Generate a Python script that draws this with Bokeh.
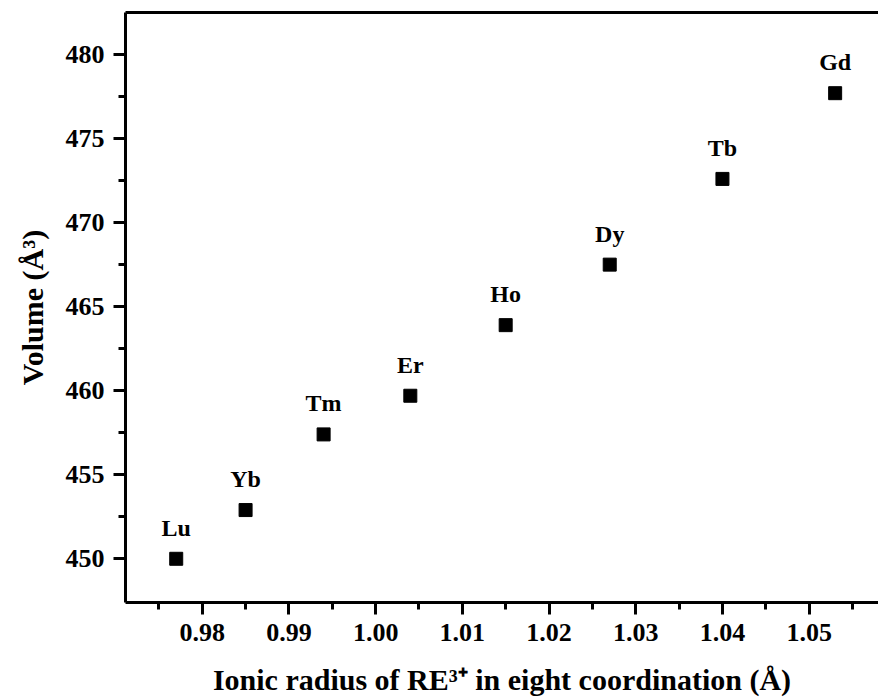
from bokeh.plotting import figure
from bokeh.models import ColumnDataSource, FixedTicker, LinearAxis, Range1d
from bokeh.core.properties import value
from bokeh.embed import file_html
from bokeh.resources import INLINE

# ---- data ----
elements = ["Lu", "Yb", "Tm", "Er", "Ho", "Dy", "Tb", "Gd"]
ionic_radius = [0.977, 0.985, 0.994, 1.004, 1.015, 1.027, 1.040, 1.053]
volume = [450.0, 452.9, 457.4, 459.7, 463.9, 467.5, 472.6, 477.7]

x_ticks = [0.98, 0.99, 1.00, 1.01, 1.02, 1.03, 1.04, 1.05]
x_minor = [0.975, 0.985, 0.995, 1.005, 1.015, 1.025, 1.035, 1.045, 1.055]
y_ticks = [450, 455, 460, 465, 470, 475, 480]
y_minor = [452.5, 457.5, 462.5, 467.5, 472.5, 477.5]

FONT = "Liberation Serif"

src = ColumnDataSource(dict(x=ionic_radius, y=volume, name=elements))

p = figure(width=878, height=700, output_backend="svg", toolbar_location=None,
           x_range=Range1d(0.97115, 1.0580), y_range=Range1d(447.40, 482.50),
           min_border_left=125, min_border_right=0, min_border_top=12,
           min_border_bottom=98)
p.outline_line_color = None
p.grid.visible = False
p.background_fill_color = "white"
p.border_fill_color = "white"

p.scatter("x", "y", source=src, marker="square", size=13, color="black")
p.text("x", "y", text="name", source=src, y_offset=-31,
       text_align="center", text_baseline="alphabetic",
       text_font=value(FONT), text_font_style="bold", text_font_size="24px",
       text_color="black")

for ax in (p.xaxis[0], p.yaxis[0]):
    ax.axis_line_width = 3
    ax.major_tick_line_width = 3
    ax.minor_tick_line_width = 3
    ax.major_tick_out = 12
    ax.major_tick_in = 0
    ax.minor_tick_out = 7
    ax.minor_tick_in = 0
    ax.major_label_text_font = FONT
    ax.major_label_text_font_style = "bold"
    ax.major_label_text_font_size = "26px"
    ax.major_label_text_color = "black"
    ax.major_label_standoff = 9
    ax.axis_label_text_font = FONT
    ax.axis_label_text_font_style = "bold"
    ax.axis_label_text_font_size = "30px"
    ax.axis_label_text_color = "black"

p.xaxis[0].ticker = FixedTicker(ticks=x_ticks, minor_ticks=x_minor)
p.xaxis[0].major_label_overrides = {t: f"{t:.2f}" for t in x_ticks}
p.xaxis[0].axis_label = "Ionic radius of RE³⁺ in eight coordination (Å)"
p.xaxis[0].axis_label_standoff = 19

p.yaxis[0].ticker = FixedTicker(ticks=y_ticks, minor_ticks=y_minor)
p.yaxis[0].major_label_overrides = {t: str(t) for t in y_ticks}
p.yaxis[0].axis_label = "Volume (Å³)"
p.yaxis[0].axis_label_standoff = 14

top = LinearAxis(ticker=FixedTicker(ticks=[]), axis_line_width=3,
                 major_tick_out=0, minor_tick_out=0, major_label_text_alpha=0)
p.add_layout(top, "above")

open("out.html", "w").write(file_html(p, INLINE))
